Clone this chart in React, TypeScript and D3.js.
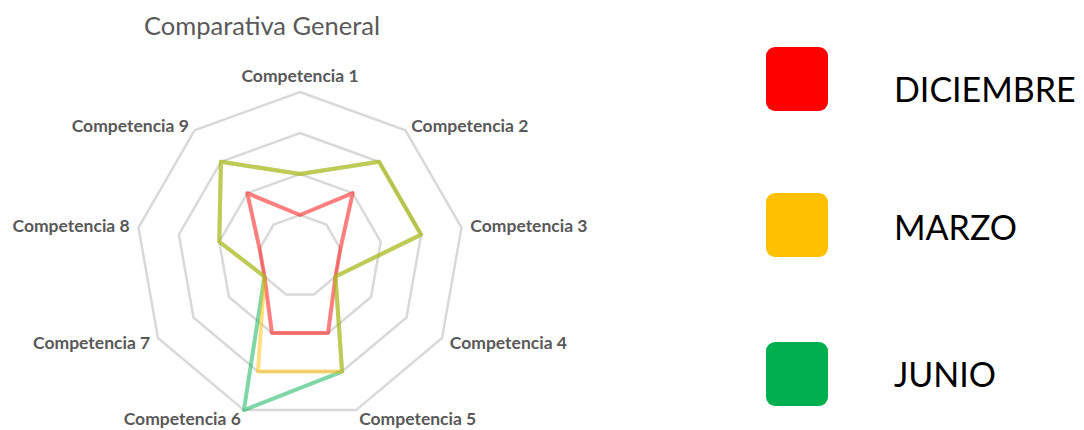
import React from "react";
import * as d3 from "d3";

const categories = [
  "Competencia 1",
  "Competencia 2",
  "Competencia 3",
  "Competencia 4",
  "Competencia 5",
  "Competencia 6",
  "Competencia 7",
  "Competencia 8",
  "Competencia 9",
];
const diciembre = [1, 2, 1, 1, 2, 2, 1, 1, 2];
const marzo = [2, 3, 3, 1, 3, 3, 1, 2, 3];
const junio = [2, 3, 3, 1, 3, 4, 1, 2, 3];
const ringTicks = [1, 2, 3, 4];
const seriesNames = ["DICIEMBRE", "MARZO", "JUNIO"];
const seriesColors = ["#FF0000", "#FFC000", "#00B050"];

const W = 1084;
const H = 430;
const cx = 300;
const cy = 256;
const R = 164;

export default function App() {
  const r = d3.scaleLinear().domain([0, 4]).range([0, R]);
  const n = categories.length;
  const angle = d3.scaleLinear().domain([0, n]).range([0, 2 * Math.PI]);

  const radial = d3
    .lineRadial<number>()
    .angle((_, i) => angle(i))
    .radius((d) => r(d))
    .curve(d3.curveLinearClosed);

  const ringPath = (v: number) => radial(categories.map(() => v)) as string;

  // drawing order: red, green, yellow (yellow over green gives olive overlap)
  const drawOrder: { vals: number[]; color: string }[] = [
    { vals: diciembre, color: seriesColors[0] },
    { vals: junio, color: seriesColors[2] },
    { vals: marzo, color: seriesColors[1] },
  ];

  const labelFont = "Lato, 'Open Sans', sans-serif";
  const legendY = [47, 193, 342];
  const legendBase = [102, 240, 387];

  return (
    <svg
      width={W}
      height={H}
      style={{ position: "absolute", left: 0, top: 0, background: "#fff" }}
    >
      <text
        x={262}
        y={35}
        textAnchor="middle"
        fontFamily={labelFont}
        fontSize={25.5}
        fill="#595959"
      >
        Comparativa General
      </text>
      <g transform={`translate(${cx},${cy})`}>
        {ringTicks.map((t) => (
          <path
            key={t}
            d={ringPath(t)}
            fill="none"
            stroke="#D9D9D9"
            strokeWidth={2.5}
            strokeLinejoin="miter"
          />
        ))}
        {drawOrder.map((s, k) => (
          <path
            key={k}
            d={radial(s.vals) as string}
            fill="none"
            stroke={s.color}
            strokeOpacity={0.5}
            strokeWidth={4}
            strokeLinejoin="round"
          />
        ))}
        {categories.map((c, i) => {
          const a = angle(i);
          const sx = Math.sin(a);
          const sy = -Math.cos(a);
          const off = i === 0 ? 16 : 9;
          const px = (R + off) * sx;
          const py = (R + off) * sy + (sy < -0.3 && i !== 0 ? 2 : 0);
          const anchor = Math.abs(sx) < 0.1 ? "middle" : sx > 0 ? "start" : "end";
          return (
            <text
              key={c}
              x={px}
              y={py}
              dy="0.35em"
              textAnchor={anchor}
              fontFamily={labelFont}
              fontWeight="bold"
              fontSize={17.5}
              fill="#595959"
            >
              {c}
            </text>
          );
        })}
      </g>
      <g>
        {seriesNames.map((name, i) => (
          <g key={name}>
            <rect
              x={766}
              y={legendY[i]}
              width={62}
              height={64}
              rx={9}
              ry={9}
              fill={seriesColors[i]}
            />
            <text
              x={894}
              y={legendBase[i]}
              fontFamily={labelFont}
              fontSize={34}
              fill="#000"
            >
              {name}
            </text>
          </g>
        ))}
      </g>
    </svg>
  );
}
